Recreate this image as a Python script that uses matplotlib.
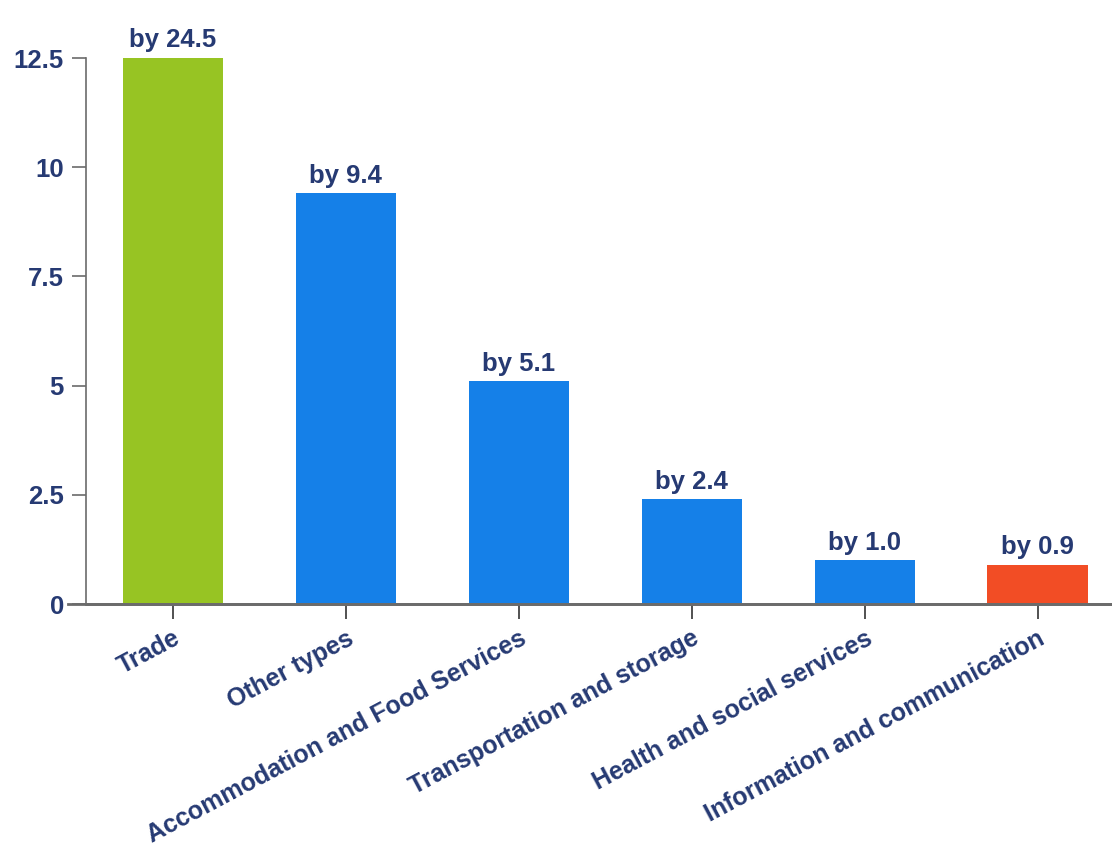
import matplotlib.pyplot as plt

categories = ["Trade", "Other types", "Accommodation and Food Services",
              "Transportation and storage", "Health and social services",
              "Information and communication"]
values = [24.5, 9.4, 5.1, 2.4, 1.0, 0.9]
bar_colors = ["#97c423", "#1580e8", "#1580e8", "#1580e8", "#1580e8", "#f24d25"]
y_ticks = [0, 2.5, 5, 7.5, 10, 12.5]
y_max = 12.5

text_color = "#263a73"
axis_color = "#6b6b6b"

plt.rcParams['font.family'] = ['Liberation Sans', 'DejaVu Sans']

fig = plt.figure(figsize=(11.12, 8.49), dpi=100)
ax = fig.add_axes([86 / 1112, 1 - 604 / 849, 1 - 86 / 1112, (604 - 58) / 849])

x = range(len(categories))
ax.bar(x, values, width=0.58, color=bar_colors, zorder=2)

# Trade bar is cut off at the top of the axis, label sits above it
for i, v in enumerate(values):
    ax.annotate(f"by {v:.1f}", (i, min(v, y_max)), xytext=(0, 4),
                textcoords="offset points", ha="center", va="bottom",
                fontsize=18.5, fontweight="bold", color=text_color,
                annotation_clip=False)

ax.set_ylim(0, y_max)
ax.set_xlim(-0.503, 5.43)
ax.set_yticks(y_ticks)
ax.set_yticklabels([f"{t:g}" for t in y_ticks], fontsize=18.5, fontweight="bold",
                   color=text_color)
ax.set_xticks(list(x))
ax.set_xticklabels(categories, rotation=28, ha="right", va="top",
                   rotation_mode="anchor", fontsize=18, fontweight="bold",
                   color=text_color)

for side in ["top", "right"]:
    ax.spines[side].set_visible(False)
ax.spines["left"].set_color(axis_color)
ax.spines["bottom"].set_color(axis_color)
ax.spines["left"].set_linewidth(1.2)
ax.spines["bottom"].set_linewidth(2)
ax.tick_params(axis="y", length=10, width=1.2, color=axis_color, pad=6)
ax.tick_params(axis="x", length=11, width=1.2, color="#333333", pad=5)
ax.axhline(0, xmin=-0.018, xmax=1, color=axis_color, lw=2, clip_on=False)

fig.savefig("out.png", dpi=100)
